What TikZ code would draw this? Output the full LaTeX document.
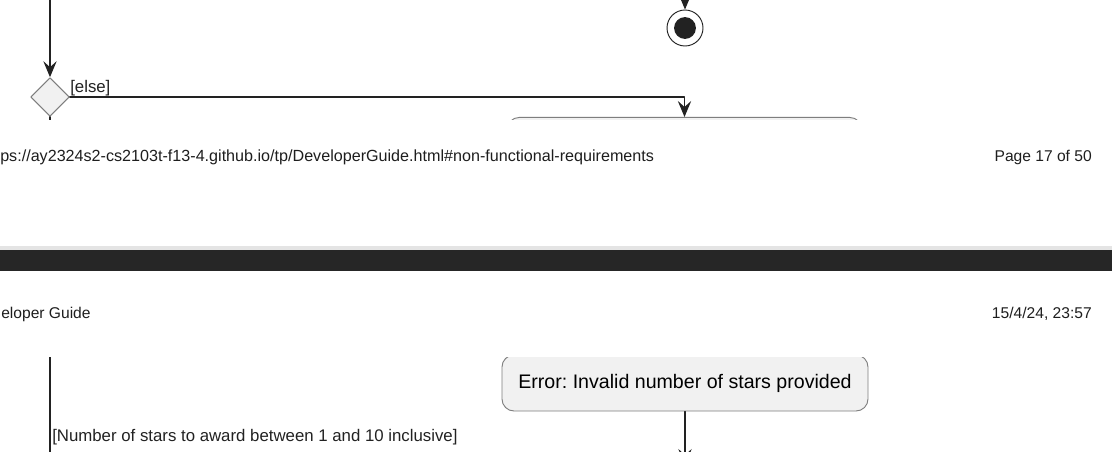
\documentclass[tikz,border=0pt]{standalone}
\usepackage{fontspec}
\setmainfont{Liberation Sans}
\usetikzlibrary{arrows.meta,positioning,shapes.geometric}
\definecolor{umlline}{HTML}{222222}
\definecolor{umlfill}{HTML}{F1F1F1}
\definecolor{umlborder}{HTML}{7E7E7E}
\definecolor{pagebar}{HTML}{262626}
\definecolor{pagestrip}{HTML}{E4E4E4}
\definecolor{pagetext}{HTML}{1E1E1E}
\frenchspacing
\tikzset{
  flow/.style={draw=umlline, line width=0.9pt, -{Stealth[length=12pt,width=10pt,inset=4.5pt]}},
  wire/.style={draw=umlline, line width=0.9pt},
  actbox/.style={draw=umlborder, fill=umlfill, rounded corners=9pt, line width=0.7pt, minimum width=274.5pt, minimum height=42pt, inner sep=0pt, font=\fontsize{14.7}{17}\selectfont},
  decbox/.style={diamond, draw=umlborder, fill=umlfill, line width=0.7pt, minimum width=29pt, minimum height=29pt, inner sep=0pt},
  stopnode/.style={circle, draw=umlline, line width=0.7pt, minimum size=27pt, inner sep=0pt},
  guard/.style={font=\fontsize{12.6}{15}\selectfont, inner sep=0pt, text=umlline},
  pagelbl/.style={font=\fontsize{11.7}{14}\selectfont, text=pagetext, inner sep=0pt}
}

\begin{document}
\begin{tikzpicture}[x=0.75pt, y=-0.75pt, line cap=round, line join=round]
    \path[use as bounding box, fill=white] (0,0) rectangle (1112,452);
    \begin{scope}
        \clip (0,0) rectangle (1112,120);
        \coordinate (inTop) at (50,0);
        \coordinate (inStop) at (685,0);
        \coordinate (outDec) at (50,125);
        \node[decbox] (dec1) at (50,97) {};
        \node[stopnode] (stop) at (685,28) {};
        \fill[umlline] (stop.center) circle[radius=8.2pt];
        \node[actbox, minimum width=266pt, anchor=north] (act1) at (684.5,117) {};
        \draw[flow] (inTop) -- (dec1.north);
        \draw[flow] (inStop) -- (stop.north);
        \draw[flow] (dec1.east) -| (act1.north);
        \draw[wire] (dec1.south) -- (outDec);
        \node[guard, anchor=base west] (elseLbl) at (70,92.5) {[else]};
    \end{scope}
    \node[pagelbl, font=\fontsize{12.1}{14}\selectfont, anchor=base west] (url) at (0,162) {ps://ay2324s2-cs2103t-f13-4.github.io/tp/DeveloperGuide.html\#non-functional-requirements};
    \node[pagelbl, anchor=base east] (pageNo) at (1092,162) {Page 17 of 50};
    \fill[pagestrip] (0,246) rectangle (1112,250);
    \fill[pagebar] (0,250) rectangle (1112,271);
    \node[pagelbl, anchor=base west] (docTitle) at (1,318) {eloper Guide};
    \node[pagelbl, anchor=base east] (stamp) at (1092,318) {15/4/24, 23:57};
    \begin{scope}
        \clip (0,357) rectangle (1112,452);
        \coordinate (inLine) at (50,350);
        \coordinate (outLine) at (50,460);
        \coordinate (outErr) at (685,465);
        \node[actbox] (err) at (685,383) {Error: Invalid number of stars provided};
        \draw[wire] (inLine) -- (outLine);
        \draw[flow] (err.south) -- (outErr);
        \node[guard, anchor=base west] (okLbl) at (52,441) {[Number of stars to award between 1 and 10 inclusive]};
    \end{scope}
\end{tikzpicture}
\end{document}
